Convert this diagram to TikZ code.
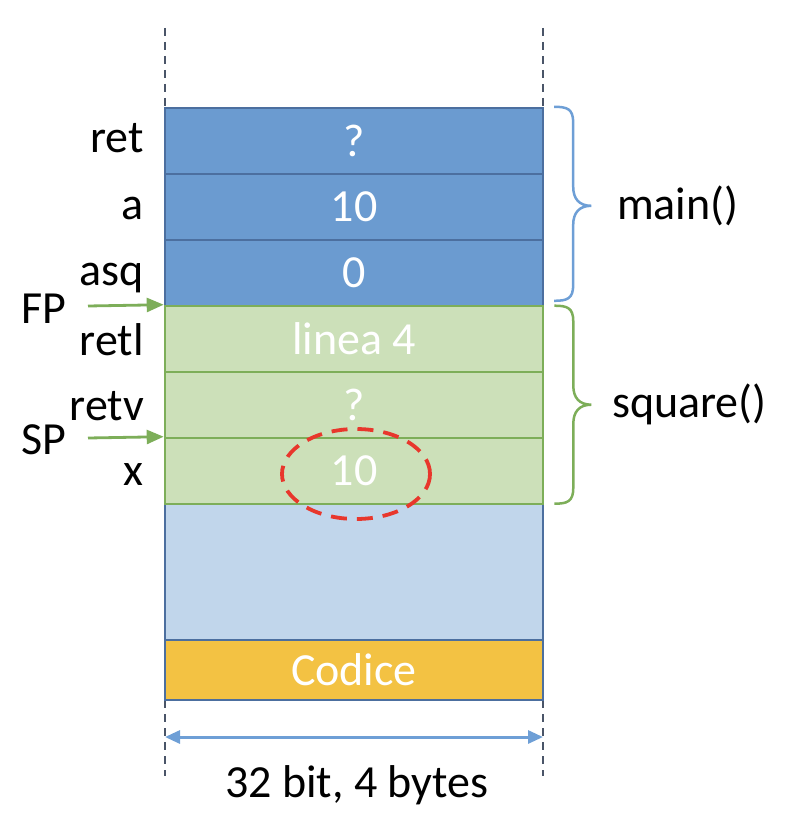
\documentclass[tikz,border=0pt]{standalone}
\usepackage{fontspec}
\setmainfont{Carlito}
\usetikzlibrary{arrows.meta}
\definecolor{cellblue}{HTML}{6B9BD0}
\definecolor{cellblueline}{HTML}{4C6F9F}
\definecolor{cellgreen}{HTML}{CCE0B9}
\definecolor{greenline}{HTML}{7DAE59}
\definecolor{lightblue}{HTML}{C1D6EB}
\definecolor{gold}{HTML}{F3C243}
\definecolor{redd}{HTML}{E8372C}
\definecolor{arrowblue}{HTML}{6E9FD6}
\definecolor{bracebl}{HTML}{6E9FD6}
\definecolor{guide}{HTML}{4A5568}
\tikzset{
  bigfont/.style={font=\fontsize{46}{55}\selectfont},
  bluecell/.style={draw=cellblueline, line width=2.4pt, fill=cellblue, minimum width=378pt, minimum height=66pt, inner sep=0pt, text=white, bigfont},
  greencell/.style={draw=greenline, line width=2.6pt, fill=cellgreen, minimum width=378pt, minimum height=66pt, inner sep=0pt, text=white, bigfont},
  lbl/.style={anchor=base east, inner sep=0pt, bigfont},
  guideline/.style={draw=guide, line width=2.4pt, dash pattern=on 8pt off 6pt},
  ptr/.style={draw=greenline, line width=2.8pt, -{Triangle[length=17pt,width=14pt]}},
  brace/.style={line width=2.5pt}
}
\begin{document}
\begin{tikzpicture}[x=1pt,y=-1pt]
\useasboundingbox (0,0) rectangle (799,832);
% guide lines
\coordinate (gl1) at (165,28); \coordinate (gl2) at (165,108);
\coordinate (gr1) at (543,28); \coordinate (gr2) at (543,108);
\coordinate (gl3) at (165,700); \coordinate (gl4) at (165,776);
\coordinate (gr3) at (543,700); \coordinate (gr4) at (543,776);
\draw[guideline] (gl1) -- (gl2);
\draw[guideline] (gr1) -- (gr2);
\draw[guideline] (gl3) -- (gl4);
\draw[guideline] (gr3) -- (gr4);
% lower areas
\node[draw=cellblueline, line width=2.4pt, fill=lightblue, minimum width=378pt, minimum height=136pt, inner sep=0pt] (free) at (354,572) {};
\node[draw=cellblueline, line width=2.4pt, fill=gold, minimum width=378pt, minimum height=60pt, inner sep=0pt, text=white, bigfont] (code) at (354,670) {Codice};
% main frame
\node[bluecell] (c1) at (354,141) {?};
\node[bluecell] (c2) at (354,207) {10};
\node[bluecell] (c3) at (354,273) {0};
% square frame
\node[greencell] (c4) at (354,339) {linea 4};
\node[greencell] (c5) at (354,405) {?};
\node[greencell] (c6) at (354,471) {10};
% highlight
\draw[redd, line width=3.8pt, dash pattern=on 16pt off 10pt] (c6.center) ++(2,3) ellipse [x radius=74, y radius=45];
% left labels
\node[lbl] (lret) at (144,153) {ret};
\node[lbl] (la) at (144,219) {a};
\node[lbl] (lasq) at (144,285) {asq};
\node[lbl] (lretl) at (144,355) {retl};
\node[lbl] (lretv) at (144,420) {retv};
\node[lbl] (lx) at (144,485) {x};
\node[anchor=base west, inner sep=0pt, bigfont] (fp) at (21,323) {FP};
\node[anchor=base west, inner sep=0pt, bigfont] (sp) at (21,454) {SP};
\coordinate (fps) at (88,306);
\coordinate (sps) at (88,438);
\draw[ptr] (fps) -- (c4.north west);
\draw[ptr] (sps) -- (c6.north west);
% braces
\draw[brace, draw=bracebl] (c1.north east) ++(10,0) coordinate (b1s)
  .. controls +(13,0) and +(0,-14) .. ++(19,16) -- ++(0,64)
  .. controls +(0,12) and +(-12,0) .. ++(18,19)
  .. controls +(-12,0) and +(0,-12) .. ++(-18,19) -- ++(0,60)
  .. controls +(0,14) and +(13,0) .. ++(-19,16);
\draw[brace, draw=greenline] (c4.north east) ++(10,1) coordinate (b2s)
  .. controls +(13,0) and +(0,-14) .. ++(19,16) -- ++(0,64)
  .. controls +(0,12) and +(-12,0) .. ++(18,19)
  .. controls +(-12,0) and +(0,-12) .. ++(-18,19) -- ++(0,64)
  .. controls +(0,14) and +(13,0) .. ++(-19,16);
\node[anchor=base west, inner sep=0pt, bigfont] (mainl) at (617,219) {main()};
\node[anchor=base west, inner sep=0pt, bigfont] (sql) at (612,417) {square()};
% width arrow
\coordinate (wl) at (165,737);
\coordinate (wr) at (543,737);
\draw[arrowblue, line width=3pt, {Triangle[length=15pt,width=13pt]}-{Triangle[length=15pt,width=13pt]}] (wl) -- (wr);
\node[anchor=base, inner sep=0pt, bigfont] (wlbl) at (357,797) {32 bit, 4 bytes};
\end{tikzpicture}
\end{document}
